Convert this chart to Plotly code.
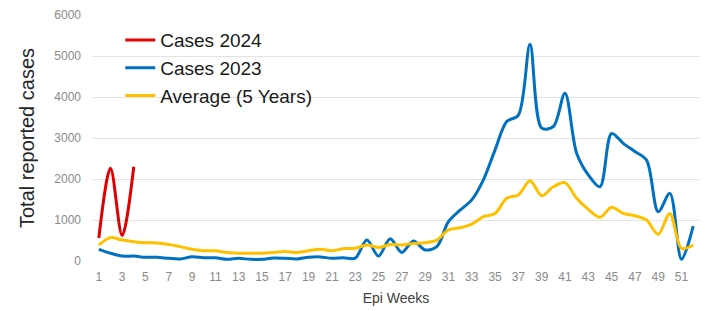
import plotly.graph_objects as go

weeks = list(range(1, 53))
weeks_2024 = [1, 2, 3, 4]
cases_2024 = [560, 2260, 620, 2300]
cases_2023 = [285, 190, 120, 120, 90, 90, 65, 50, 105, 80,
              80, 40, 65, 40, 40, 75, 65, 50, 90, 100,
              65, 80, 70, 510, 120, 545, 210, 490, 270, 350,
              960, 1240, 1490, 1980, 2710, 3400, 3560, 5285, 3240, 3280,
              4090, 2630, 2100, 1810, 3110, 2870, 2670, 2460, 1200, 1650,
              40, 850]
average_5y = [390, 570, 510, 470, 445, 440, 405, 350, 285, 250,
              250, 205, 190, 190, 190, 210, 230, 205, 250, 285,
              250, 300, 310, 390, 330, 400, 390, 430, 445, 510,
              760, 810, 900, 1080, 1160, 1530, 1610, 1960, 1590, 1810,
              1910, 1530, 1260, 1065, 1310, 1160, 1105, 1000, 650, 1160,
              310, 390]
tick_weeks = list(range(1, 53, 2))
y_ticks = [0, 1000, 2000, 3000, 4000, 5000, 6000]

fig = go.Figure()
fig.add_trace(go.Scatter(x=weeks_2024, y=cases_2024, name="Cases 2024", mode="lines",
                         line=dict(color="#E00000", width=3, shape="spline", smoothing=0.9)))
fig.add_trace(go.Scatter(x=weeks, y=cases_2023, name="Cases 2023", mode="lines",
                         line=dict(color="#0070C0", width=3, shape="spline", smoothing=0.9)))
fig.add_trace(go.Scatter(x=weeks, y=average_5y, name="Average (5 Years)", mode="lines",
                         line=dict(color="#FFC000", width=3, shape="spline", smoothing=0.9)))

fig.update_layout(
    width=707, height=311,
    margin=dict(l=85, r=16, t=7, b=58),
    paper_bgcolor="white", plot_bgcolor="white",
    font=dict(family="Liberation Sans, Arial, sans-serif", color="#595959"),
    showlegend=True,
    legend=dict(x=0.045, y=0.975, xanchor="left", yanchor="top",
                font=dict(size=19, color="#1a1a1a"), bgcolor="rgba(0,0,0,0)",
                tracegroupgap=0, itemwidth=30),
    xaxis=dict(range=[0.5, 52.5], tickvals=tick_weeks, ticktext=[str(w) for w in tick_weeks],
               showgrid=False, zeroline=False, showline=False, automargin=False,
               ticklabelstandoff=7,
               tickfont=dict(size=12, color="#8a8a8a"),
               title=dict(text="Epi Weeks", font=dict(size=14, color="#404040"), standoff=10)),
    yaxis=dict(range=[0, 6000], tickvals=y_ticks, showgrid=True, gridcolor="#e3e3e3", gridwidth=1,
               zeroline=False, showline=False, ticklabelstandoff=11, automargin=False,
               tickfont=dict(size=12, color="#8a8a8a"),
               title=dict(text="Total reported cases", font=dict(size=20, color="#262626"), standoff=14)),
)

fig.write_html("out.html")
